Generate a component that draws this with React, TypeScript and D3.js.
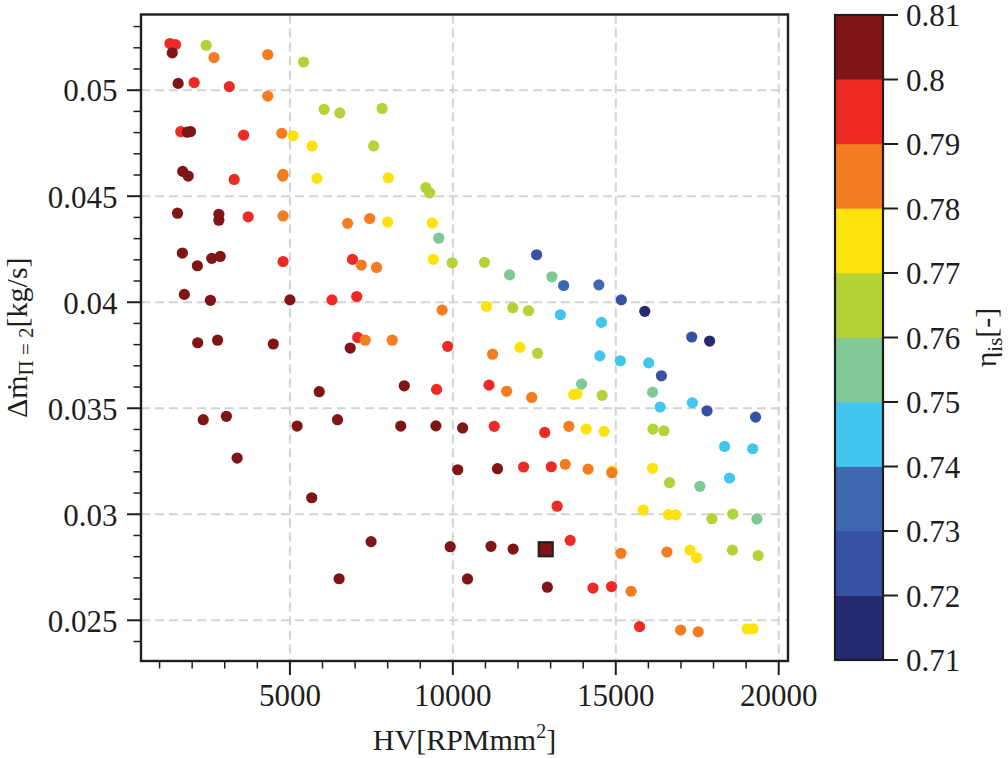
import React from "react";
import * as d3 from "d3";

// ---- data (HV [RPM mm^2], Δm [kg/s], η_is [-]) ----
const hvValues: number[] = [
  1320, 1490, 1390, 2430, 2670, 4320, 5420, 1570, 2060, 3140, 4320, 6050, 6530, 7830, 1650, 1850, 1950, 3580, 4750, 5100,
  5680, 7570, 1710, 1880, 3290, 4780, 4790, 5830, 8020, 9170, 9290, 1550, 2820, 2820, 3720, 4790, 6770, 7450, 8000, 9370,
  9570, 1700, 2160, 2600, 2860, 4790, 6920, 7190, 7660, 9400, 9980, 1760, 2560, 5000, 6290, 7050, 9670, 2170, 2780, 4490,
  7080, 7310, 8140, 6850, 9840, 5900, 8510, 9500, 2340, 3050, 5220, 6460, 8400, 9480, 10300, 3380, 10150, 5670, 7490, 9920,
  6510, 10450, 10970, 11740, 12570, 13040, 13400, 14480, 15170, 15890, 11030, 11840, 12320, 13300, 14560, 17330, 17880, 11220, 12060, 12600,
  14510, 15140, 16010, 16400, 11110, 11650, 12420, 13950, 13710, 13810, 14580, 16130, 16360, 17350, 17800, 19290, 11270, 12820, 13560, 14090,
  14640, 16140, 16480, 18340, 19200, 11370, 12170, 13020, 13450, 14150, 14880, 14880, 16130, 16650, 17580, 18490, 13200, 15840, 16620, 16840,
  17950, 18590, 19330, 11170, 11850, 13600, 15160, 16570, 17280, 17480, 18580, 19370, 12900, 14300, 14870, 15470, 15730, 16990, 17530, 19030,
  19210,
];
const dmValues: number[] = [
  0.0522, 0.05215, 0.05176, 0.05212, 0.05154, 0.05168, 0.05133, 0.05032, 0.05036, 0.05017, 0.04972, 0.0491, 0.04893, 0.04914, 0.04805, 0.04802, 0.04805, 0.04788, 0.04797, 0.04785,
  0.04737, 0.04737, 0.04617, 0.04595, 0.04579, 0.04595, 0.04603, 0.04584, 0.04587, 0.04541, 0.04516, 0.0442, 0.04415, 0.04387, 0.04403, 0.04407, 0.04372, 0.04395, 0.04378, 0.04374,
  0.04302, 0.04232, 0.04172, 0.04207, 0.04216, 0.04192, 0.04202, 0.04175, 0.04164, 0.04202, 0.04186, 0.04037, 0.04009, 0.04011, 0.04011, 0.04027, 0.03963, 0.03809, 0.03821, 0.03803,
  0.03834, 0.03821, 0.03821, 0.03784, 0.03792, 0.03578, 0.03606, 0.03589, 0.03446, 0.03462, 0.03416, 0.03446, 0.03416, 0.03417, 0.03407, 0.03265, 0.0321, 0.03078, 0.02871, 0.02847,
  0.02696, 0.02695, 0.04188, 0.04129, 0.04224, 0.0412, 0.04079, 0.04082, 0.04011, 0.03957, 0.0398, 0.03974, 0.0396, 0.03941, 0.03905, 0.03836, 0.03817, 0.03755, 0.03787, 0.03759,
  0.03747, 0.03724, 0.03714, 0.03653, 0.03609, 0.0358, 0.03551, 0.03614, 0.03565, 0.03568, 0.03561, 0.03576, 0.03506, 0.03526, 0.03488, 0.03458, 0.03415, 0.03386, 0.03415, 0.03402,
  0.03391, 0.03402, 0.03394, 0.0332, 0.03309, 0.03215, 0.03223, 0.03224, 0.03236, 0.03213, 0.03205, 0.03196, 0.03217, 0.03149, 0.03132, 0.03171, 0.03038, 0.0302, 0.02998, 0.02997,
  0.02979, 0.03001, 0.02978, 0.02849, 0.02836, 0.02877, 0.02816, 0.02822, 0.02831, 0.02795, 0.02831, 0.02805, 0.02656, 0.02652, 0.02659, 0.02637, 0.0247, 0.02454, 0.02446, 0.0246,
  0.0246,
];
const etaValues: number[] = [
  0.795, 0.795, 0.805, 0.765, 0.785, 0.785, 0.765, 0.805, 0.795, 0.795, 0.785, 0.765, 0.765, 0.765, 0.795, 0.805, 0.805, 0.795, 0.785, 0.775,
  0.775, 0.765, 0.805, 0.805, 0.795, 0.785, 0.785, 0.775, 0.775, 0.765, 0.765, 0.805, 0.805, 0.805, 0.795, 0.785, 0.785, 0.785, 0.775, 0.775,
  0.755, 0.805, 0.805, 0.805, 0.805, 0.795, 0.795, 0.785, 0.785, 0.775, 0.765, 0.805, 0.805, 0.805, 0.795, 0.795, 0.785, 0.805, 0.805, 0.805,
  0.795, 0.785, 0.785, 0.805, 0.795, 0.805, 0.805, 0.795, 0.805, 0.805, 0.805, 0.805, 0.805, 0.805, 0.805, 0.805, 0.805, 0.805, 0.805, 0.805,
  0.805, 0.805, 0.765, 0.755, 0.725, 0.755, 0.735, 0.735, 0.725, 0.715, 0.775, 0.765, 0.765, 0.745, 0.745, 0.725, 0.715, 0.785, 0.775, 0.765,
  0.745, 0.745, 0.745, 0.725, 0.795, 0.785, 0.785, 0.755, 0.775, 0.775, 0.765, 0.755, 0.745, 0.745, 0.725, 0.725, 0.795, 0.795, 0.785, 0.775,
  0.775, 0.765, 0.765, 0.745, 0.745, 0.805, 0.795, 0.795, 0.785, 0.785, 0.775, 0.785, 0.775, 0.765, 0.755, 0.745, 0.795, 0.775, 0.775, 0.775,
  0.765, 0.765, 0.755, 0.805, 0.805, 0.795, 0.785, 0.785, 0.775, 0.775, 0.765, 0.765, 0.805, 0.795, 0.795, 0.785, 0.795, 0.785, 0.785, 0.775,
  0.775,
];
// highlighted design point (square marker)
const highlightHV: number[] = [12850];
const highlightDm: number[] = [0.02835];
const highlightEta: number[] = [0.805];

const xMajorTicks: number[] = [5000, 10000, 15000, 20000];
const xTickLabels: string[] = ["5000", "10000", "15000", "20000"];
const yMajorTicks: number[] = [0.025, 0.03, 0.035, 0.04, 0.045, 0.05];
const yTickLabels: string[] = ["0.025", "0.03", "0.035", "0.04", "0.045", "0.05"];
const cbTicks: number[] = [0.71, 0.72, 0.73, 0.74, 0.75, 0.76, 0.77, 0.78, 0.79, 0.8, 0.81];
const cbTickLabels: string[] = ["0.71", "0.72", "0.73", "0.74", "0.75", "0.76", "0.77", "0.78", "0.79", "0.8", "0.81"];
const cbColors: string[] = [
  "#262a70", "#3852a3", "#3e68b0", "#42c6ee", "#80c896",
  "#b3d337", "#fde30b", "#f47c21", "#ee2a27", "#7f1517",
];

const FONT = "'Liberation Serif', 'Times New Roman', Times, serif";

export default function App() {
  const W = 1008, H = 758;
  const left = 141, right = 788, top = 14.5, bottom = 661;
  const x = d3.scaleLinear().domain([430, 20285]).range([left, right]);
  const y = d3.scaleLinear().domain([0.02308, 0.05357]).range([bottom, top]);
  const color = d3.scaleQuantize<string>().domain([0.71, 0.81]).range(cbColors);

  const cbLeft = 835, cbRight = 883, cbTop = 15, cbBottom = 660;
  const cb = d3.scaleLinear().domain([0.71, 0.81]).range([cbBottom, cbTop]);

  const xMinor = d3.range(1000, 20001, 1000).filter((v) => !xMajorTicks.includes(v));
  const yMinor = d3.range(24, 54).map((v) => v / 1000).filter((v) => !yMajorTicks.some((t) => Math.abs(t - v) < 1e-9));

  const bins = d3.range(cbColors.length).map((i) => ({
    lo: 0.71 + i * 0.01,
    hi: 0.71 + (i + 1) * 0.01,
    c: cbColors[i],
  }));

  const pts = hvValues.map((hv, i) => ({ hv, dm: dmValues[i], eta: etaValues[i] }));

  return (
    <svg
      width={W}
      height={H}
      viewBox={`0 0 ${W} ${H}`}
      style={{ position: "absolute", left: 0, top: 0, background: "#fff" }}
      fontFamily={FONT}
    >
      <rect x={0} y={0} width={W} height={H} fill="#fff" />
      {/* grid */}
      <g stroke="#d3d3d3" strokeWidth={2} strokeDasharray="9,5">
        {xMajorTicks.map((t) => (
          <line key={"gx" + t} x1={x(t)} x2={x(t)} y1={top} y2={bottom} />
        ))}
        {yMajorTicks.map((t) => (
          <line key={"gy" + t} x1={left} x2={right} y1={y(t)} y2={y(t)} />
        ))}
      </g>

      {/* points */}
      <g>
        {pts.map((p, i) => (
          <circle key={i} cx={x(p.hv)} cy={y(p.dm)} r={5.6} fill={color(p.eta)} />
        ))}
        {highlightHV.map((hv, i) => (
          <rect
            key={"h" + i}
            x={x(hv) - 7}
            y={y(highlightDm[i]) - 7}
            width={14}
            height={14}
            fill={color(highlightEta[i])}
            stroke="#222"
            strokeWidth={2.2}
          />
        ))}
      </g>

      {/* frame */}
      <rect x={left} y={top} width={right - left} height={bottom - top} fill="none" stroke="#1e1e1e" strokeWidth={2.4} />

      {/* ticks */}
      <g stroke="#1e1e1e">
        {xMajorTicks.map((t) => (
          <line key={"xt" + t} x1={x(t)} x2={x(t)} y1={bottom} y2={bottom + 14} strokeWidth={2} />
        ))}
        {xMinor.map((t) => (
          <line key={"xm" + t} x1={x(t)} x2={x(t)} y1={bottom} y2={bottom + 7.5} strokeWidth={1.5} />
        ))}
        {yMajorTicks.map((t) => (
          <line key={"yt" + t} x1={left - 14} x2={left} y1={y(t)} y2={y(t)} strokeWidth={2} />
        ))}
        {yMinor.map((t) => (
          <line key={"ym" + t} x1={left - 7.5} x2={left} y1={y(t)} y2={y(t)} strokeWidth={1.5} />
        ))}
      </g>
      <g fontSize={31} fill="#1e1e1e">
        {xMajorTicks.map((t, i) => (
          <text key={"xl" + t} x={x(t)} y={705.5} textAnchor="middle">
            {xTickLabels[i]}
          </text>
        ))}
        {yMajorTicks.map((t, i) => (
          <text key={"yl" + t} x={117.5} y={y(t) + 11.3} textAnchor="end">
            {yTickLabels[i]}
          </text>
        ))}
      </g>

      {/* axis labels */}
      <text x={(left + right) / 2} y={750} textAnchor="middle" fontSize={30} fill="#1e1e1e">
        HV[RPMmm
        <tspan fontSize={20} dy={-12}>2</tspan>
        <tspan dy={12}>]</tspan>
      </text>
      <text
        transform={`translate(27, ${(top + bottom) / 2}) rotate(-90)`}
        textAnchor="middle"
        fontSize={30}
        fill="#1e1e1e"
      >
        Δṁ
        <tspan fontSize={21} dy={6}>Π = 2</tspan>
        <tspan dy={-6}>[kg/s]</tspan>
      </text>

      {/* colorbar */}
      <g>
        {bins.map((b, i) => (
          <rect
            key={"cb" + i}
            x={cbLeft}
            y={cb(b.hi)}
            width={cbRight - cbLeft}
            height={cb(b.lo) - cb(b.hi)}
            fill={b.c}
            stroke={b.c}
            strokeWidth={0.5}
          />
        ))}
        <rect
          x={cbLeft}
          y={cbTop}
          width={cbRight - cbLeft}
          height={cbBottom - cbTop}
          fill="none"
          stroke="#1e1e1e"
          strokeWidth={2.2}
        />
        {cbTicks.map((t) => (
          <line key={"cbt" + t} x1={cbRight} x2={cbRight + 15} y1={cb(t)} y2={cb(t)} stroke="#1e1e1e" strokeWidth={2} />
        ))}
        {cbTicks.map((t, i) => (
          <text key={"cbl" + t} x={906} y={cb(t) + 11.3} fontSize={31} fill="#1e1e1e">
            {cbTickLabels[i]}
          </text>
        ))}
        <text
          transform={`translate(996, ${(cbTop + cbBottom) / 2}) rotate(-90)`}
          textAnchor="middle"
          fontSize={30}
          fill="#1e1e1e"
        >
          η
          <tspan fontSize={21} dy={6}>is</tspan>
          <tspan dy={-6}>[-]</tspan>
        </text>
      </g>
    </svg>
  );
}
